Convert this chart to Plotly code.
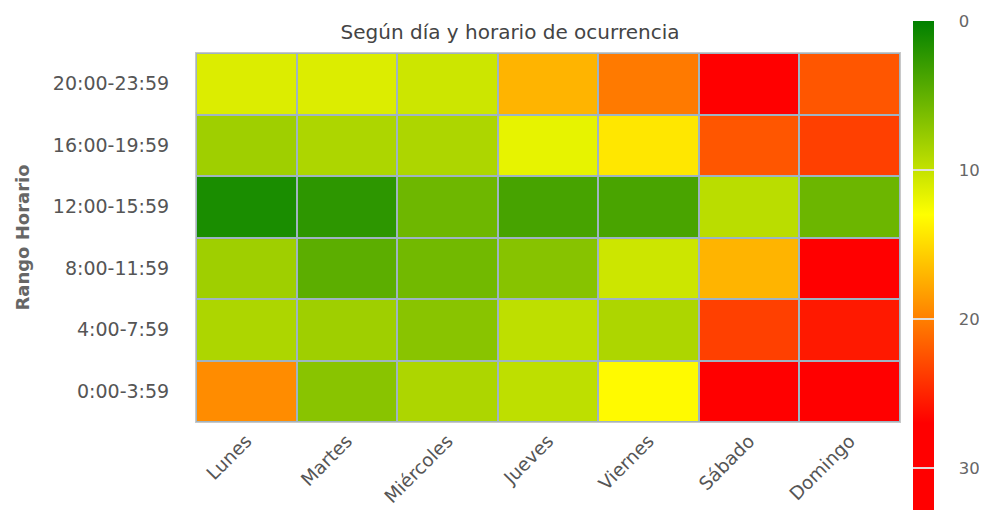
import plotly.graph_objects as go

dias = ["Lunes", "Martes", "Miércoles", "Jueves", "Viernes", "Sábado", "Domingo"]
rangos = ["0:00-3:59", "4:00-7:59", "8:00-11:59", "12:00-15:59", "16:00-19:59", "20:00-23:59"]

r_00 = [19.3, 7.0, 8.8, 9.7, 13.3, 30, 29]
r_04 = [8.8, 8.1, 7.0, 9.7, 8.8, 23.5, 25.6]
r_08 = [8.1, 4.7, 5.8, 6.9, 10.4, 17.1, 29]
r_12 = [1.3, 2.3, 5.6, 3.6, 3.7, 9.5, 5.5]
r_16 = [8.1, 8.8, 8.8, 11.8, 14.3, 22.3, 23.5]
r_20 = [11.2, 11.2, 10.4, 17.1, 20.3, 31, 22.3]

valores = [r_00, r_04, r_08, r_12, r_16, r_20]
cbar_ticks = [0, 10, 20, 30]

VMAX = 33.5
Y_STOP = 13.0
R_STOP = 27.0

# colour axis is reversed (0 at top) -> plot negated values
z_neg = [[-v for v in fila] for fila in valores]
colorscale = [
    [0.0, "#ff0000"],
    [1 - R_STOP / VMAX, "#ff0000"],
    [1 - Y_STOP / VMAX, "#ffff00"],
    [1.0, "#008000"],
]

font_fam = "DejaVu Sans"
NB = "\u00a0"

# page has an 8px body margin: figure coordinates = page coordinates - 8
W, H = 979, 502
L, R, T, B = 188, 892, 45, 414  # plot area in figure pixels
PW, PH = R - L, B - T

fig = go.Figure(
    go.Heatmap(
        x=dias,
        y=rangos,
        z=z_neg,
        customdata=valores,
        hovertemplate="%{x}<br>%{y}: %{customdata}<extra></extra>",
        colorscale=colorscale,
        zmin=-VMAX,
        zmax=0,
        xgap=2,
        ygap=2,
        colorbar=dict(
            x=(905 - L) / PW,
            xanchor="left",
            xpad=0,
            y=(B - 13) / PH,
            yanchor="top",
            ypad=0,
            thickness=21,
            lenmode="pixels",
            len=VMAX * 14.9,
            outlinewidth=0,
            tickvals=[-t for t in cbar_ticks],
            ticktext=[NB * 4 + str(t) for t in cbar_ticks],
            ticks="inside",
            ticklen=21,
            tickcolor="rgba(225,225,225,0.95)",
            tickwidth=2,
            tickfont=dict(family=font_fam, size=16.5, color="#666666"),
        ),
    )
)

fig.update_layout(
    width=W,
    height=H,
    margin=dict(l=L, r=W - R, t=T, b=H - B, autoexpand=False),
    paper_bgcolor="white",
    plot_bgcolor="#9fb4c2",
    title=dict(
        text="Según día y horario de ocurrencia",
        x=502 / W,
        xanchor="center",
        y=1 - 24 / H,
        yanchor="middle",
        font=dict(family=font_fam, size=20, color="#444444"),
    ),
    font=dict(family=font_fam),
)
fig.update_xaxes(
    tickangle=-45,
    tickfont=dict(family=font_fam, size=18.5, color="#555555"),
    showgrid=False,
    zeroline=False,
    showline=True,
    linecolor="#c8c8c8",
    mirror=True,
    linewidth=1,
)
fig.update_yaxes(
    tickfont=dict(family=font_fam, size=19, color="#555555"),
    ticklabelstandoff=22,
    showgrid=False,
    zeroline=False,
    showline=True,
    linecolor="#c8c8c8",
    mirror=True,
    linewidth=1,
    title=dict(
        text="<b>Rango Horario</b>",
        font=dict(family=font_fam, size=18, color="#666666"),
        standoff=18,
    ),
)

fig.write_html("out.html")
